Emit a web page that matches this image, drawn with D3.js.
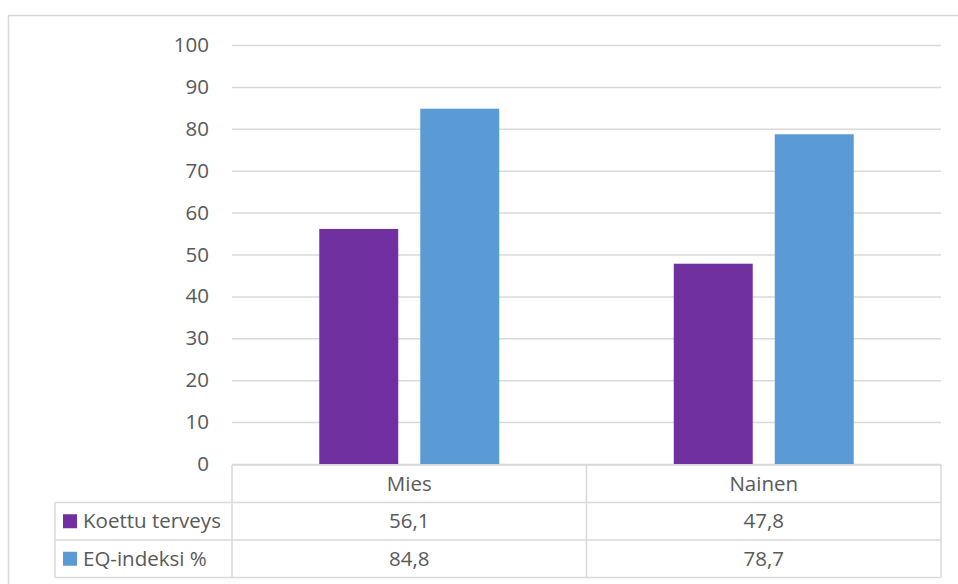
<!DOCTYPE html>
<html>
<head>
<meta charset="utf-8">
<script src="https://cdn.jsdelivr.net/npm/d3@7"></script>
<style>
  html, body { margin: 0; padding: 0; background: #fff; }
  svg { display: block; }
  text { font-family: "Open Sans", Lato, sans-serif; fill: #595959; }
</style>
</head>
<body>
<svg id="chart" width="958" height="584"></svg>
<script>
// Data
const categories = ["Mies", "Nainen"];
const seriesNames = ["Koettu terveys", "EQ-indeksi %"];
const koettuTerveys = [56.1, 47.8];
const eqIndeksi = [84.8, 78.7];
const yTicks = [0, 10, 20, 30, 40, 50, 60, 70, 80, 90, 100];
const colors = ["#7030A0", "#5B9BD5"];

const series = [koettuTerveys, eqIndeksi];
const fmt = v => d3.format(".1f")(v).replace(".", ",");
const FONT = "20.5px";

const svg = d3.select("#chart");

// Chart area frame
svg.append("rect")
  .attr("x", 8.5).attr("y", 15.5)
  .attr("width", 960).attr("height", 600)
  .attr("fill", "none").attr("stroke", "#d9d9d9").attr("stroke-width", 1.5);

const plot = { left: 232, right: 941, top: 45, bottom: 464 };

const x = d3.scaleBand().domain(categories).range([plot.left, plot.right]);
const y = d3.scaleLinear().domain([0, 100]).range([plot.bottom, plot.top]);
const xs = d3.scaleBand().domain(d3.range(series.length))
  .range([0, x.bandwidth()]).paddingInner(0.218).paddingOuter(0.864);

// Gridlines and tick labels
const yAxis = d3.axisLeft(y).tickValues(yTicks).tickSize(-(plot.right - plot.left)).tickPadding(23);
const gy = svg.append("g").attr("transform", `translate(${plot.left},0)`).call(yAxis);
gy.select(".domain").remove();
gy.selectAll(".tick line").attr("stroke", "#d9d9d9").attr("stroke-width", 1.5);
gy.selectAll(".tick text")
  .style("font-size", FONT).attr("fill", "#595959")
  .attr("font-family", "'Open Sans', Lato, sans-serif");

// Bars
const groups = svg.append("g").selectAll("g")
  .data(categories).join("g")
  .attr("transform", d => `translate(${x(d)},0)`);

groups.selectAll("rect")
  .data((c, ci) => series.map((s, si) => ({ si, v: s[ci] })))
  .join("rect")
  .attr("x", d => xs(d.si))
  .attr("width", xs.bandwidth())
  .attr("y", d => y(d.v))
  .attr("height", d => y(0) - y(d.v))
  .attr("fill", d => colors[d.si]);

// Data table below the axis
const rowH = 37.5;
const tableTop = plot.bottom + 1;
const tableLeft = 55;
const tg = svg.append("g");
const lineStyle = sel => sel.attr("stroke", "#d9d9d9").attr("stroke-width", 1.5);

// Horizontal lines
tg.append("line").attr("x1", plot.left).attr("x2", plot.right)
  .attr("y1", tableTop).attr("y2", tableTop).call(lineStyle);
for (let i = 1; i <= series.length + 1; i++) {
  tg.append("line").attr("x1", tableLeft).attr("x2", plot.right)
    .attr("y1", tableTop + i * rowH).attr("y2", tableTop + i * rowH).call(lineStyle);
}
// Vertical lines
tg.append("line").attr("x1", tableLeft).attr("x2", tableLeft)
  .attr("y1", tableTop + rowH).attr("y2", tableTop + (series.length + 1) * rowH).call(lineStyle);
[plot.left, ...categories.map(c => x(c) + x.bandwidth())].forEach(xx => {
  tg.append("line").attr("x1", xx).attr("x2", xx)
    .attr("y1", tableTop).attr("y2", tableTop + (series.length + 1) * rowH).call(lineStyle);
});

// Category header
tg.selectAll("text.cat").data(categories).join("text")
  .attr("class", "cat")
  .attr("x", d => x(d) + x.bandwidth() / 2)
  .attr("y", tableTop + rowH / 2)
  .attr("dy", "0.35em").attr("text-anchor", "middle")
  .style("font-size", FONT).text(d => d);

// Series rows
series.forEach((s, si) => {
  const cy = tableTop + (si + 1) * rowH + rowH / 2;
  tg.append("rect").attr("x", 63).attr("y", cy - 7).attr("width", 14).attr("height", 14)
    .attr("fill", colors[si]);
  tg.append("text").attr("x", 83).attr("y", cy).attr("dy", "0.35em")
    .style("font-size", FONT).text(seriesNames[si]);
  tg.selectAll(null).data(categories).join("text")
    .attr("x", d => x(d) + x.bandwidth() / 2)
    .attr("y", cy).attr("dy", "0.35em").attr("text-anchor", "middle")
    .style("font-size", FONT)
    .text((d, ci) => fmt(s[ci]));
});
</script>
</body>
</html>
